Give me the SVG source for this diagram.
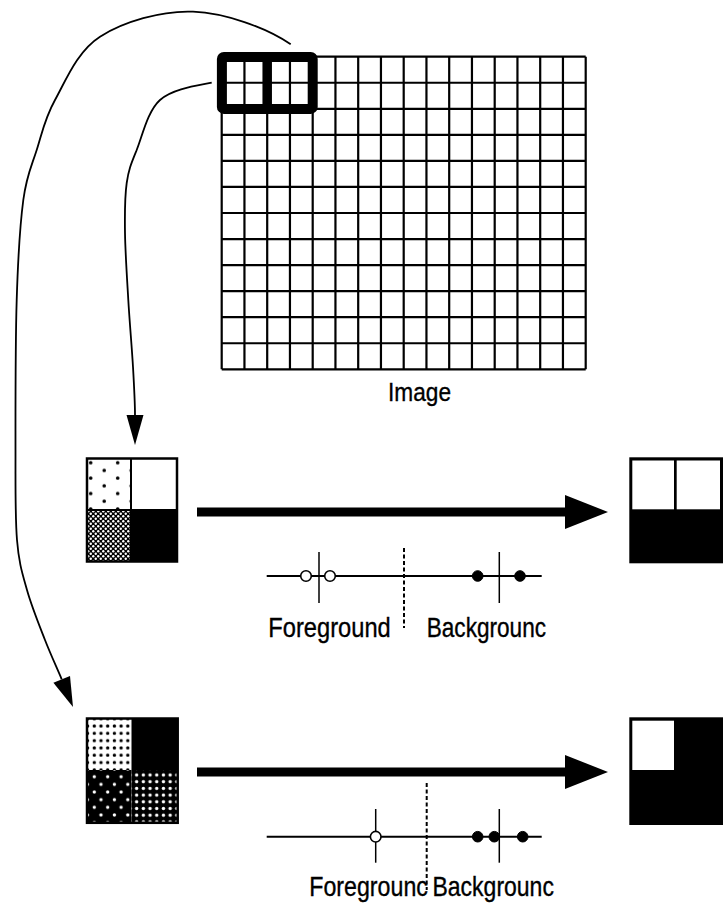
<svg xmlns="http://www.w3.org/2000/svg" width="723" height="905" viewBox="0 0 723 905">
<style>
.lbl{font-family:"Liberation Sans",Arial,sans-serif;fill:#000;stroke:#000;stroke-width:0.3}
.grid{stroke:#000;stroke-width:2.2;fill:none}
.conn{stroke:#000;stroke-width:1.8;fill:none}
.nl{stroke:#000;stroke-width:2;fill:none}
.tick{stroke:#000;stroke-width:1.5}
.dash{stroke:#000;stroke-width:2;stroke-dasharray:4 2.5}
.open{fill:#fff;stroke:#000;stroke-width:1.6}
.full{fill:#000;stroke:#000;stroke-width:1}
.frame{fill:none;stroke:#000;stroke-width:2.5}
</style>
<defs>
<pattern id="p1" patternUnits="userSpaceOnUse" x="83.95" y="458.85" width="27" height="15.4">
<rect width="27" height="15.4" fill="#fff"/>
<circle cx="6.75" cy="3.85" r="1.8" fill="#000"/>
<circle cx="20.25" cy="11.55" r="1.8" fill="#000"/>
</pattern>
<pattern id="p2" patternUnits="userSpaceOnUse" x="87" y="510" width="5" height="5">
<rect width="5" height="5" fill="#000"/>
<circle cx="1.25" cy="1.25" r="1.2" fill="#fff"/>
<circle cx="3.75" cy="3.75" r="1.2" fill="#fff"/>
</pattern>
<pattern id="p3" patternUnits="userSpaceOnUse" x="90.95" y="722.35" width="6.7" height="7.3">
<rect width="6.7" height="7.3" fill="#fff"/>
<circle cx="3.35" cy="3.65" r="1.7" fill="#000"/>
</pattern>
<pattern id="p4" patternUnits="userSpaceOnUse" x="90.95" y="772.9" width="13.4" height="15.3">
<rect width="13.4" height="15.3" fill="#000"/>
<circle cx="3.35" cy="3.8" r="1.7" fill="#fff"/>
<circle cx="10.05" cy="11.45" r="1.7" fill="#fff"/>
</pattern>
<pattern id="p5" patternUnits="userSpaceOnUse" x="133.3" y="771.65" width="6.7" height="6.7">
<rect width="6.7" height="6.7" fill="#000"/>
<circle cx="3.35" cy="3.35" r="1.7" fill="#fff"/>
</pattern>
</defs>
<rect width="723" height="905" fill="#fff"/>

<g id="image">
<path class="grid" d="M221.7,56.7V369.3M244.45,56.7V369.3M267.2,56.7V369.3M289.95,56.7V369.3M312.7,56.7V369.3M335.45,56.7V369.3M358.2,56.7V369.3M380.95,56.7V369.3M403.7,56.7V369.3M426.45,56.7V369.3M449.2,56.7V369.3M471.95,56.7V369.3M494.7,56.7V369.3M517.45,56.7V369.3M540.2,56.7V369.3M562.95,56.7V369.3M585.7,56.7V369.3M221.7,56.7H585.7M221.7,82.75H585.7M221.7,108.8H585.7M221.7,134.85H585.7M221.7,160.9H585.7M221.7,186.95H585.7M221.7,213H585.7M221.7,239.05H585.7M221.7,265.1H585.7M221.7,291.15H585.7M221.7,317.2H585.7M221.7,343.25H585.7M221.7,369.3H585.7"/>
<rect x="221.9" y="56.9" width="90.8" height="52" rx="2" fill="none" stroke="#000" stroke-width="10" stroke-linejoin="round"/>
<line x1="267.2" y1="56.7" x2="267.2" y2="111" stroke="#000" stroke-width="9.5"/>
<text class="lbl" font-size="22.7" transform="translate(388,400.7) scale(1,1.17)">Image</text>
</g>

<g id="block1-in">
<rect x="87" y="458.5" width="44" height="51.5" fill="url(#p1)"/>
<rect x="131" y="458.5" width="46" height="51.5" fill="#fff"/>
<rect x="87" y="510" width="44" height="51.5" fill="url(#p2)"/>
<rect x="131" y="510" width="46" height="51.5" fill="#000"/>
<line x1="131" y1="458.5" x2="131" y2="561.5" stroke="#000" stroke-width="2"/>
<line x1="87" y1="510" x2="177" y2="510" stroke="#000" stroke-width="2"/>
<rect class="frame" x="87" y="458.5" width="90" height="103"/>
</g>

<g id="block1-out">
<rect x="629.3" y="457.3" width="93.7" height="106" fill="#000"/>
<rect x="632.3" y="460.5" width="41.7" height="48.8" fill="#fff"/>
<rect x="676.7" y="460.5" width="43.3" height="48.8" fill="#fff"/>
</g>

<g id="block2-in">
<rect x="87" y="718.5" width="44.5" height="51.5" fill="url(#p3)"/>
<rect x="131.5" y="718.5" width="46.2" height="51.5" fill="#000"/>
<rect x="87" y="770" width="44.5" height="52.8" fill="url(#p4)"/>
<rect x="131.5" y="770" width="46.2" height="52.8" fill="url(#p5)"/>
<rect class="frame" x="87" y="718.5" width="90.7" height="104.3"/>
</g>

<g id="block2-out">
<rect x="629.3" y="717.3" width="93.7" height="107.7" fill="#000"/>
<rect x="632.3" y="720.7" width="41.7" height="49.3" fill="#fff"/>
</g>

<g id="numberline1">
<line class="nl" x1="266.7" y1="576" x2="541.7" y2="576"/>
<line class="tick" x1="319" y1="552" x2="319" y2="603"/>
<line class="tick" x1="499.3" y1="552" x2="499.3" y2="603"/>
<line class="dash" x1="404" y1="548" x2="404" y2="628"/>
<circle class="open" cx="306" cy="576" r="5.3"/>
<circle class="open" cx="330" cy="576" r="5.3"/>
<circle class="full" cx="477.7" cy="576" r="5.3"/>
<circle class="full" cx="520" cy="576" r="5.3"/>
<text class="lbl" font-size="23.7" transform="translate(268.3,636.7) scale(1,1.15)">Foreground</text>
<text class="lbl" font-size="22.6" transform="translate(426.7,636.7) scale(1,1.2)">Backgrounc</text>
</g>

<g id="numberline2">
<line class="nl" x1="266.7" y1="836.7" x2="541.7" y2="836.7"/>
<line class="tick" x1="375.7" y1="809" x2="375.7" y2="862.7"/>
<line class="tick" x1="499.3" y1="809" x2="499.3" y2="862.7"/>
<line class="dash" x1="426.7" y1="783" x2="426.7" y2="890"/>
<circle class="open" cx="375.7" cy="836.7" r="5.3"/>
<circle class="full" cx="477.7" cy="836.7" r="5.3"/>
<circle class="full" cx="494.3" cy="836.7" r="5.3"/>
<circle class="full" cx="522.7" cy="836.7" r="5.3"/>
<text class="lbl" font-size="23.2" transform="translate(309.3,896) scale(1,1.17)">Foregrounc</text>
<text class="lbl" font-size="23" transform="translate(432.5,896) scale(1,1.18)">Backgrounc</text>
</g>

<g id="connectors">
<line x1="197" y1="512" x2="566" y2="512" stroke="#000" stroke-width="9"/>
<polygon points="565,495 608,512 565,529" fill="#000"/>
<line x1="197" y1="772" x2="566" y2="772" stroke="#000" stroke-width="9"/>
<polygon points="565,755 608,772 565,789" fill="#000"/>
<path class="conn" d="M290.7,44.3 C265.7,27.3 224.8,13 193,11.7 C161.2,10.4 123,22 100,36.7 C77,51.4 65.6,81.1 55,100 C44.5,118.9 42,133.3 36.7,150 C31.4,166.7 26.6,175 23.3,200 C20,225 18,258.3 16.7,300 C15.4,341.7 15.45,410 15.5,450 C15.55,490 15.1,516.7 17,540 C18.9,563.3 22.3,573.3 27,590 C31.7,606.7 39.2,625.1 45,640 C50.8,654.9 57.9,670 61.7,679.3"/>
<polygon points="70,675.9 53.4,682.7 73,707" fill="#000"/>
<path class="conn" d="M211.7,82.7 C196.7,85.7 172.5,88.8 160,100 C147.5,111.2 142.3,136.2 136.7,150 C131.1,163.8 128.7,169.2 126.7,183 C124.75,196.8 124.7,213.5 125,233 C125.3,252.5 127,277.7 128.3,300 C129.6,322.3 131.9,347.8 133,367 C134.1,386.2 135,405 135,415"/>
<polygon points="126.5,415 143.5,415 135,445" fill="#000"/>
</g>
</svg>
